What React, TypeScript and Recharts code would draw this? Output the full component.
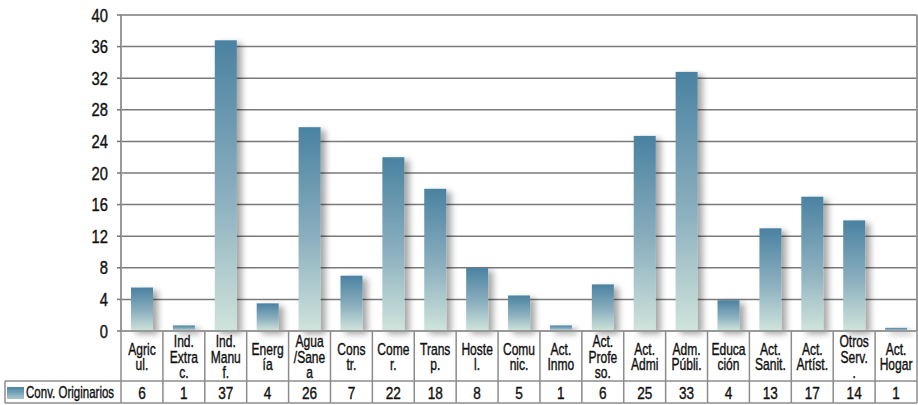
import React from 'react';
import { BarChart, Bar, XAxis, YAxis, CartesianGrid } from 'recharts';

// category labels as they wrap in the table cells
const categoryLabels: string[][] = [
  ['Agric', 'ul.'],
  ['Ind.', 'Extra', 'c.'],
  ['Ind.', 'Manu', 'f.'],
  ['Energ', 'ía'],
  ['Agua', '/Sane', 'a'],
  ['Cons', 'tr.'],
  ['Come', 'r.'],
  ['Trans', 'p.'],
  ['Hoste', 'l.'],
  ['Comu', 'nic.'],
  ['Act.', 'Inmo'],
  ['Act.', 'Profe', 'so.'],
  ['Act.', 'Admi'],
  ['Adm.', 'Públi.'],
  ['Educa', 'ción'],
  ['Act.', 'Sanit.'],
  ['Act.', 'Artíst.'],
  ['Otros', 'Serv.', '.'],
  ['Act.', 'Hogar'],
];

const barValues = [5.5, 0.7, 36.8, 3.5, 25.8, 7.0, 22.0, 18.0, 8.0, 4.5, 0.7, 5.9, 24.7, 32.8, 3.9, 13.0, 17.0, 14.0, 0.4];
const tableValues = ['6', '1', '37', '4', '26', '7', '22', '18', '8', '5', '1', '6', '25', '33', '4', '13', '17', '14', '1'];
const yTicks = [0, 4, 8, 12, 16, 20, 24, 28, 32, 36, 40];
const seriesName = 'Conv. Originarios';

const data = categoryLabels.map((lines, i) => ({
  name: lines.join(' '),
  value: barValues[i],
}));

// no condensed face installed, so squeeze Liberation Sans horizontally
const FONT = "'Liberation Sans', Arial, sans-serif";
const TABLE_LINE = '#8c8c8c';
const LABEL_ROW = 50;
const VALUE_ROW = 22;

const Narrow = ({ x, y, sx = 0.73, size, anchor = 'middle', children }: any) => (
  <g transform={`translate(${x},${y}) scale(${sx},1)`}>
    <text
      x={0}
      y={0}
      textAnchor={anchor}
      fontSize={size}
      fill="#111"
      stroke="#111"
      strokeWidth={0.4}
      fontFamily={FONT}
    >
      {children}
    </text>
  </g>
);

const CategoryTick = (props: any) => {
  const { x, y, index } = props;
  const axisWidth = props.width ?? 796;
  const band = axisWidth / categoryLabels.length;
  const l = x - band / 2;
  const r = x + band / 2;
  const lines = categoryLabels[index] || [];
  const pitch = 15.5;
  const firstBase = y + 31.5 - ((lines.length - 1) / 2) * pitch;
  const bottom = y + LABEL_ROW + VALUE_ROW;
  return (
    <g>
      <line x1={r} y1={y} x2={r} y2={bottom} stroke={TABLE_LINE} strokeWidth={1.5} />
      <line x1={l} y1={y + LABEL_ROW} x2={r} y2={y + LABEL_ROW} stroke={TABLE_LINE} strokeWidth={1.5} />
      <line x1={l} y1={bottom} x2={r} y2={bottom} stroke={TABLE_LINE} strokeWidth={1.5} />
      {index === 0 && (
        <g>
          <line x1={l} y1={y} x2={l} y2={bottom} stroke={TABLE_LINE} strokeWidth={1.5} />
          <line x1={5} y1={y + LABEL_ROW} x2={l} y2={y + LABEL_ROW} stroke={TABLE_LINE} strokeWidth={1.5} />
          <line x1={5} y1={bottom} x2={l} y2={bottom} stroke={TABLE_LINE} strokeWidth={1.5} />
          <line x1={5} y1={y + LABEL_ROW} x2={5} y2={bottom} stroke={TABLE_LINE} strokeWidth={1.5} />
          <rect x={7} y={y + LABEL_ROW + 6} width={17} height={12} fill="url(#swatchGrad)" />
          <Narrow x={26} y={y + LABEL_ROW + 17} sx={0.72} size={16} anchor="start">
            {seriesName}
          </Narrow>
        </g>
      )}
      {lines.map((s, k) => (
        <Narrow key={k} x={x} y={firstBase + k * pitch} size={16.5}>
          {s}
        </Narrow>
      ))}
      <Narrow x={x} y={y + LABEL_ROW + 18} sx={0.8} size={17}>
        {tableValues[index]}
      </Narrow>
    </g>
  );
};

const ValueTick = (props: any) => {
  const { x, y, payload } = props;
  return (
    <Narrow x={x} y={y + 6.5} sx={0.82} size={18} anchor="end">
      {payload.value}
    </Narrow>
  );
};

const GridLine = (props: any) => {
  const { x1, y1, x2, y2 } = props;
  return (
    <g key={`g-${y1}`}>
      <line x1={x1} y1={y1 + 5} x2={x2} y2={y2 + 5} stroke="#e4e4e4" strokeWidth={5} filter="url(#softBlur)" />
      <line x1={x1} y1={y1} x2={x2} y2={y2} stroke="#7a7a7a" strokeWidth={1.5} />
    </g>
  );
};

const BarShape = (props: any) => {
  const { x, y, width, height } = props;
  if (!height || height <= 0) return null;
  return <rect x={x} y={y} width={width} height={height} fill="url(#barGrad)" filter="url(#barShadow)" />;
};

export default function App() {
  return (
    <div style={{ position: 'absolute', left: 0, top: 0, width: 918, height: 405, background: '#fff' }}>
      <BarChart width={918} height={405} data={data} margin={{ top: 15, right: 0, bottom: 0, left: 0 }}>
        <defs>
          <linearGradient id="barGrad" x1="0" y1="0" x2="0" y2="1">
            <stop offset="0%" stopColor="#4a82a1" />
            <stop offset="55%" stopColor="#8cb0bf" />
            <stop offset="100%" stopColor="#cfe4db" />
          </linearGradient>
          <linearGradient id="swatchGrad" x1="0" y1="0" x2="0" y2="1">
            <stop offset="0%" stopColor="#4a82a1" />
            <stop offset="100%" stopColor="#a9c8cf" />
          </linearGradient>
          <filter id="barShadow" filterUnits="userSpaceOnUse" x={0} y={0} width={918} height={405}>
            <feDropShadow dx={5} dy={3} stdDeviation={3} floodColor="#000" floodOpacity={0.35} />
          </filter>
          <filter id="softBlur" x="-5%" y="-200%" width="110%" height="500%">
            <feGaussianBlur stdDeviation={2} />
          </filter>
        </defs>
        <CartesianGrid vertical={false} horizontal={GridLine} />
        <XAxis
          dataKey="name"
          interval={0}
          height={LABEL_ROW + VALUE_ROW + 2}
          tickSize={0}
          tickMargin={0}
          tickLine={false}
          axisLine={{ stroke: '#999', strokeWidth: 2 }}
          tick={(p: any) => <CategoryTick {...p} />}
        />
        <YAxis
          width={121}
          domain={[0, 40]}
          ticks={yTicks}
          interval={0}
          tickSize={4}
          tickMargin={9}
          axisLine={{ stroke: '#999', strokeWidth: 2 }}
          tickLine={{ stroke: '#777', strokeWidth: 1.5 }}
          tick={(p: any) => <ValueTick {...p} />}
        />
        <YAxis
          yAxisId="frame"
          orientation="right"
          width={1}
          tick={false}
          tickLine={false}
          axisLine={{ stroke: '#999', strokeWidth: 2 }}
        />
        <Bar dataKey="value" barSize={22} shape={BarShape} isAnimationActive={false} />
      </BarChart>
    </div>
  );
}
